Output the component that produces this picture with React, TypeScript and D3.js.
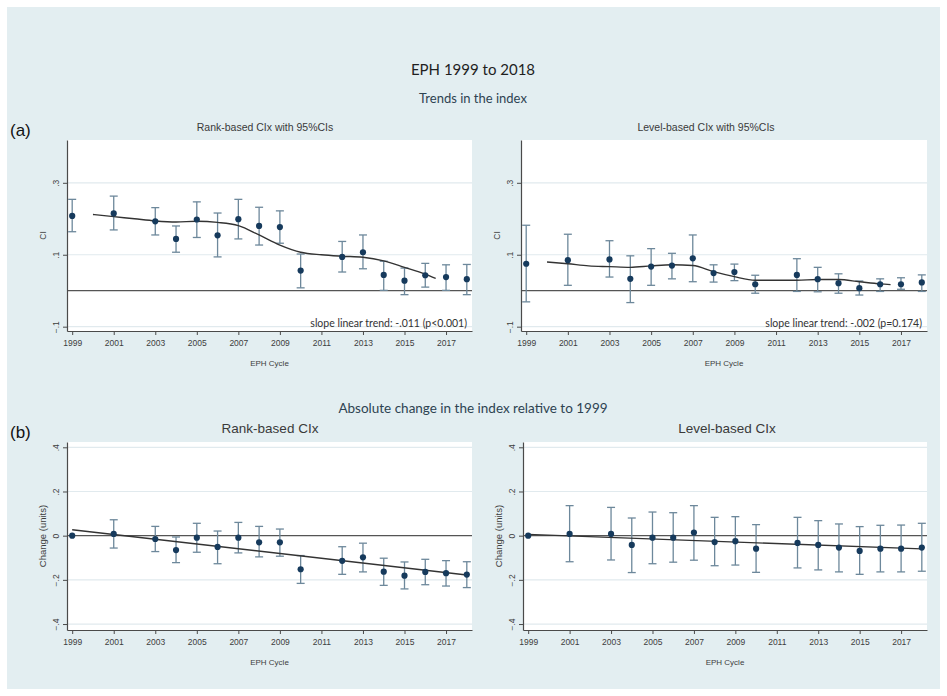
import * as d3 from "d3";
import { useEffect, useRef } from "react";

// survey years (no 2011 round)
const years = [1999, 2001, 2003, 2004, 2005, 2006, 2007, 2008, 2009, 2010, 2012, 2013, 2014, 2015, 2016, 2017, 2018];

// (a) rank-based CIx with 95% CIs
const rankCI = [0.208, 0.215, 0.193, 0.144, 0.198, 0.154, 0.199, 0.18, 0.177, 0.056, 0.094, 0.107, 0.044, 0.028, 0.043, 0.038, 0.032];
const rankLo = [0.164, 0.169, 0.155, 0.107, 0.148, 0.094, 0.144, 0.127, 0.132, 0.008, 0.052, 0.061, 0.001, -0.011, 0.01, 0.001, -0.011];
const rankHi = [0.254, 0.263, 0.231, 0.18, 0.247, 0.216, 0.254, 0.232, 0.222, 0.102, 0.137, 0.155, 0.082, 0.063, 0.076, 0.072, 0.073];

// (a) level-based CIx with 95% CIs
const levelCI = [0.075, 0.085, 0.087, 0.033, 0.067, 0.07, 0.09, 0.049, 0.052, 0.018, 0.044, 0.032, 0.021, 0.007, 0.018, 0.018, 0.023];
const levelLo = [-0.031, 0.015, 0.038, -0.033, 0.015, 0.033, 0.025, 0.024, 0.028, -0.007, -0.002, -0.003, -0.007, -0.012, -0.002, 0.004, -0.002];
const levelHi = [0.182, 0.157, 0.139, 0.097, 0.117, 0.104, 0.155, 0.072, 0.074, 0.043, 0.089, 0.065, 0.047, 0.027, 0.033, 0.036, 0.044];

// smoothed trends in (a)
const smoothYears = [2000, 2001, 2002, 2003, 2004, 2005, 2006, 2007, 2008, 2009, 2010, 2011, 2012, 2013, 2014, 2015, 2016, 2016.5];
const rankSmooth = [0.212, 0.206, 0.2, 0.194, 0.191, 0.193, 0.19, 0.181, 0.155, 0.127, 0.107, 0.1, 0.096, 0.093, 0.083, 0.065, 0.046, 0.034];
const levelSmooth = [0.08, 0.075, 0.069, 0.067, 0.065, 0.069, 0.072, 0.07, 0.053, 0.039, 0.029, 0.029, 0.029, 0.031, 0.031, 0.025, 0.019, 0.017];

// (b) absolute change relative to 1999
const rankChg = [0, 0.008, -0.015, -0.065, -0.009, -0.051, -0.009, -0.03, -0.03, -0.152, -0.114, -0.098, -0.163, -0.181, -0.164, -0.17, -0.176];
const rankChgLo = [0, -0.056, -0.072, -0.122, -0.075, -0.127, -0.078, -0.096, -0.093, -0.216, -0.175, -0.164, -0.225, -0.241, -0.222, -0.228, -0.235];
const rankChgHi = [0, 0.072, 0.042, -0.006, 0.056, 0.021, 0.06, 0.042, 0.03, -0.09, -0.05, -0.034, -0.102, -0.119, -0.107, -0.113, -0.118];

const levelChg = [0, 0.008, 0.008, -0.042, -0.009, -0.009, 0.014, -0.029, -0.025, -0.059, -0.033, -0.042, -0.054, -0.069, -0.059, -0.059, -0.054];
const levelChgLo = [0, -0.118, -0.11, -0.167, -0.127, -0.12, -0.111, -0.136, -0.133, -0.166, -0.146, -0.155, -0.164, -0.175, -0.164, -0.164, -0.161];
const levelChgHi = [0, 0.136, 0.128, 0.08, 0.107, 0.104, 0.136, 0.083, 0.086, 0.05, 0.083, 0.068, 0.053, 0.041, 0.047, 0.048, 0.056];

// linear fits in (b)
const fitYears = [1999, 2018];
const rankFit = [0.027, -0.178];
const levelFit = [0.006, -0.06];

const xTicks = [1999, 2001, 2003, 2005, 2007, 2009, 2011, 2013, 2015, 2017];
const topYTicks = [0.3, 0.1, -0.1];
const bottomYTicks = [0.4, 0.2, 0, -0.2, -0.4];

const stataFont = "'Liberation Sans Narrow', 'Liberation Sans', Arial, sans-serif";
const slideFont = "Lato, 'Open Sans', sans-serif";

// stata style: drop the leading zero
const fmt = (v: number) => d3.format(".1~f")(v).replace("0.", ".");

function drawPanel(svg: any, cfg: any) {
    const { x0, x1, y0, y1 } = cfg;
    const x = d3.scaleLinear().domain([1998.75, 2018.25]).range([x0, x1]);
    const y = d3.scaleLinear().domain(cfg.yDomain).range([y1, y0]);
    const g = svg.append("g");

    g.append("rect")
        .attr("x", x0).attr("y", y0)
        .attr("width", x1 - x0).attr("height", y1 - y0)
        .attr("fill", "#ffffff");

    g.selectAll(".grid")
        .data(cfg.yTicks.filter((t: number) => t !== 0))
        .enter()
        .append("line")
        .attr("x1", x0).attr("x2", x1)
        .attr("y1", (d: number) => y(d)).attr("y2", (d: number) => y(d))
        .attr("stroke", "#e1eaee")
        .attr("stroke-width", 1.2);

    g.append("line")
        .attr("x1", x0).attr("x2", x1)
        .attr("y1", y(0)).attr("y2", y(0))
        .attr("stroke", "#555")
        .attr("stroke-width", 1.3);

    const pts = years.map((yr, i) => ({ yr, v: cfg.vals[i], lo: cfg.lo[i], hi: cfg.hi[i] }));

    const bars = g.append("g").attr("stroke", "#6d889b").attr("stroke-width", 1.3);
    bars.selectAll(".ci")
        .data(pts)
        .enter()
        .append("line")
        .attr("x1", (d: any) => x(d.yr)).attr("x2", (d: any) => x(d.yr))
        .attr("y1", (d: any) => y(d.lo)).attr("y2", (d: any) => y(d.hi));
    ["lo", "hi"].forEach(k => {
        bars.selectAll(".cap-" + k)
            .data(pts.filter(d => d.lo !== d.hi))
            .enter()
            .append("line")
            .attr("x1", (d: any) => x(d.yr) - 4).attr("x2", (d: any) => x(d.yr) + 4)
            .attr("y1", (d: any) => y(d[k])).attr("y2", (d: any) => y(d[k]));
    });

    const line = d3.line<number>()
        .x((d, i) => x(cfg.trendX[i]))
        .y(d => y(d))
        .curve(cfg.smooth ? d3.curveMonotoneX : d3.curveLinear);

    g.append("path")
        .attr("d", line(cfg.trend))
        .attr("fill", "none")
        .attr("stroke", "#333")
        .attr("stroke-width", 1.4);

    g.selectAll(".pt")
        .data(pts)
        .enter()
        .append("circle")
        .attr("cx", (d: any) => x(d.yr))
        .attr("cy", (d: any) => y(d.v))
        .attr("r", 3.1)
        .attr("fill", "#163a5c");

    // axes
    const yAxis = g.append("g")
        .attr("transform", `translate(${x0},0)`)
        .call(d3.axisLeft(y).tickValues(cfg.yTicks).tickFormat(fmt).tickSize(4).tickSizeOuter(0));
    yAxis.selectAll("text")
        .attr("transform", "rotate(-90)")
        .attr("x", 0).attr("y", -8.5).attr("dy", 0)
        .attr("text-anchor", "middle");

    const xAxis = g.append("g")
        .attr("transform", `translate(0,${y1})`)
        .call(d3.axisBottom(x).tickValues(xTicks).tickFormat(d3.format("d")).tickSize(4).tickSizeOuter(0));
    xAxis.selectAll("text").attr("y", 9).attr("dy", "0.71em");

    [yAxis, xAxis].forEach(a => {
        a.attr("font-family", stataFont).attr("font-size", 8.5);
        a.select(".domain").attr("stroke", "#4a4a4a").attr("stroke-width", 1.2);
        a.selectAll(".tick line").attr("stroke", "#4a4a4a");
        a.selectAll("text").attr("fill", "#3d3d3d");
    });

    g.append("text")
        .attr("transform", `translate(${x0 - 21},${(y0 + y1) / 2}) rotate(-90)`)
        .attr("text-anchor", "middle")
        .attr("font-family", stataFont)
        .attr("font-size", cfg.yTitleSize)
        .attr("fill", "#3d3d3d")
        .text(cfg.yTitle);

    g.append("text")
        .attr("x", (x0 + x1) / 2).attr("y", y1 + 35)
        .attr("text-anchor", "middle")
        .attr("font-family", stataFont)
        .attr("font-size", 8)
        .attr("fill", "#3d3d3d")
        .text("EPH Cycle");

    g.append("text")
        .attr("x", cfg.titleX).attr("y", cfg.titleY)
        .attr("text-anchor", "middle")
        .attr("font-family", "'Liberation Sans', Arial, sans-serif")
        .attr("font-size", cfg.titleSize)
        .attr("fill", "#3a3a3a")
        .text(cfg.title);

    if (cfg.note) {
        g.append("text")
            .attr("x", x1 - 5).attr("y", y1 - 4)
            .attr("text-anchor", "end")
            .attr("font-family", slideFont)
            .attr("font-size", 10.5)
            .attr("fill", "#333")
            .text(cfg.note);
    }
}

function App() {
    const ref = useRef<SVGSVGElement>(null);

    useEffect(() => {
        const svg = d3.select(ref.current);
        svg.selectAll("*").remove();

        svg.append("rect").attr("width", 947).attr("height", 696).attr("fill", "#ffffff");
        svg.append("rect")
            .attr("x", 7).attr("y", 7)
            .attr("width", 933).attr("height", 682)
            .attr("fill", "#e3eef1");

        const heads = [
            { t: "EPH 1999 to 2018", x: 473, y: 75, s: 15, c: "#1f1f1f" },
            { t: "Trends in the index", x: 473, y: 103, s: 13, c: "#2e4352" },
            { t: "Absolute change in the index relative to 1999", x: 473, y: 413, s: 13.5, c: "#2e4352" },
        ];
        heads.forEach(h => {
            svg.append("text")
                .attr("x", h.x).attr("y", h.y)
                .attr("text-anchor", "middle")
                .attr("font-family", slideFont)
                .attr("font-size", h.s)
                .attr("fill", h.c)
                .text(h.t);
        });

        [{ t: "(a)", y: 136 }, { t: "(b)", y: 438 }].forEach(l => {
            svg.append("text")
                .attr("x", 10).attr("y", l.y)
                .attr("font-family", "'Liberation Sans', Arial, sans-serif")
                .attr("font-size", 17)
                .attr("fill", "#111")
                .text(l.t);
        });

        const top = { y0: 140, y1: 331, yDomain: [-0.112, 0.419], yTicks: topYTicks, yTitle: "CI", yTitleSize: 8.5, titleY: 131, titleSize: 10.5, smooth: true, trendX: smoothYears };
        const bottom = { y0: 442, y1: 630, yDomain: [-0.427, 0.424], yTicks: bottomYTicks, yTitle: "Change (units)", yTitleSize: 9.5, titleY: 433, titleSize: 13.5, smooth: false, trendX: fitYears };

        drawPanel(svg, { ...top, x0: 67, x1: 472, titleX: 265, title: "Rank-based CIx with 95%CIs", vals: rankCI, lo: rankLo, hi: rankHi, trend: rankSmooth, note: "slope linear trend: -.011 (p<0.001)" });
        drawPanel(svg, { ...top, x0: 521, x1: 927, titleX: 706, title: "Level-based CIx with 95%CIs", vals: levelCI, lo: levelLo, hi: levelHi, trend: levelSmooth, note: "slope linear trend: -.002 (p=0.174)" });
        drawPanel(svg, { ...bottom, x0: 67, x1: 472, titleX: 270, title: "Rank-based CIx", vals: rankChg, lo: rankChgLo, hi: rankChgHi, trend: rankFit });
        drawPanel(svg, { ...bottom, x0: 523, x1: 927, titleX: 727, title: "Level-based CIx", vals: levelChg, lo: levelChgLo, hi: levelChgHi, trend: levelFit });
    }, []);

    return (
        <svg ref={ref} width={947} height={696} style={{ position: "absolute", left: 0, top: 0 }}></svg>
    );
}

export default App;
